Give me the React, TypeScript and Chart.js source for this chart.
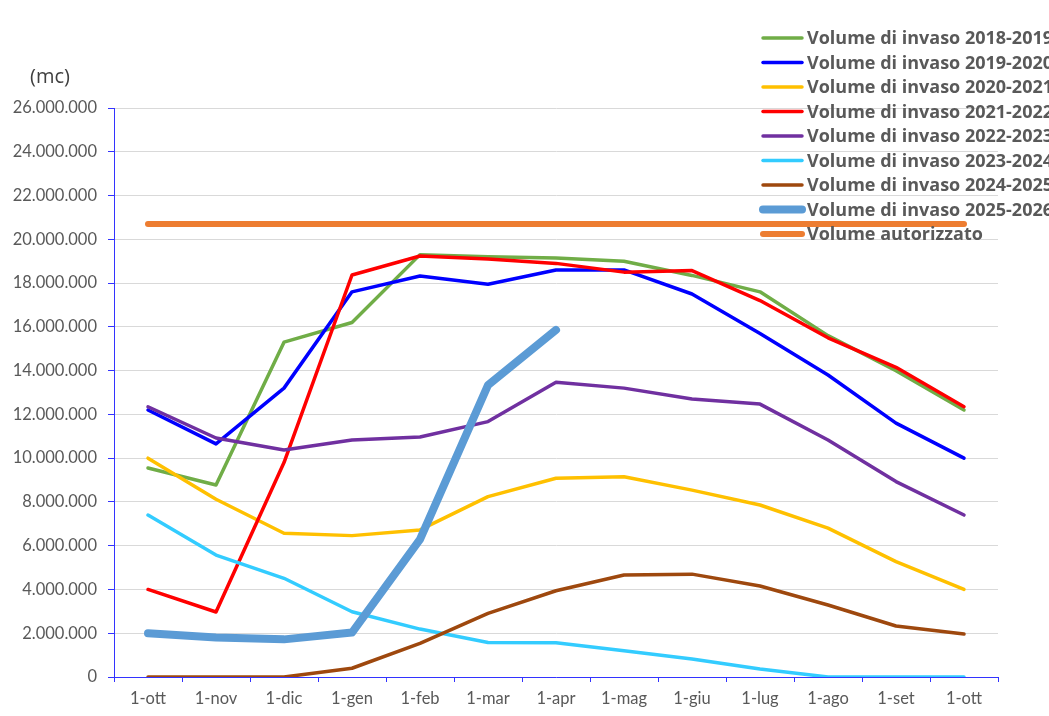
import React, { useEffect, useRef } from "react";
import { Chart, registerables } from "chart.js";

Chart.register(...registerables);

const months = ["1-ott", "1-nov", "1-dic", "1-gen", "1-feb", "1-mar", "1-apr", "1-mag", "1-giu", "1-lug", "1-ago", "1-set", "1-ott"];

const vol2018 = [9550000, 8770000, 15300000, 16200000, 19300000, 19200000, 19150000, 19000000, 18350000, 17600000, 15600000, 14000000, 12200000];
const vol2019 = [12200000, 10650000, 13200000, 17600000, 18320000, 17950000, 18600000, 18600000, 17500000, 15700000, 13800000, 11600000, 10000000];
const vol2020 = [10000000, 8120000, 6570000, 6460000, 6720000, 8240000, 9080000, 9150000, 8540000, 7860000, 6800000, 5270000, 4000000];
const vol2021 = [4000000, 2970000, 9800000, 18370000, 19240000, 19100000, 18900000, 18500000, 18570000, 17200000, 15500000, 14150000, 12350000];
const vol2022 = [12350000, 10920000, 10370000, 10830000, 10970000, 11670000, 13470000, 13200000, 12700000, 12470000, 10830000, 8930000, 7400000];
const vol2023 = [7400000, 5570000, 4510000, 2980000, 2190000, 1580000, 1560000, 1200000, 820000, 370000, 0, 0, 0];
const vol2024 = [0, 0, 0, 400000, 1540000, 2910000, 3940000, 4660000, 4700000, 4160000, 3290000, 2330000, 1960000];
const vol2025 = [2000000, 1800000, 1720000, 2030000, 6290000, 13340000, 15860000, null, null, null, null, null, null];
const autorizzato = [20700000, 20700000, 20700000, 20700000, 20700000, 20700000, 20700000, 20700000, 20700000, 20700000, 20700000, 20700000, 20700000];

const seriesLabels = [
  "Volume di invaso 2018-2019",
  "Volume di invaso 2019-2020",
  "Volume di invaso 2020-2021",
  "Volume di invaso 2021-2022",
  "Volume di invaso 2022-2023",
  "Volume di invaso 2023-2024",
  "Volume di invaso 2024-2025",
  "Volume di invaso 2025-2026",
  "Volume autorizzato",
];
const seriesData = [vol2018, vol2019, vol2020, vol2021, vol2022, vol2023, vol2024, vol2025, autorizzato];
const seriesColors = ["#70AD47", "#0000FF", "#FFC000", "#FF0000", "#7030A0", "#33CCFF", "#9E480E", "#5B9BD5", "#ED7D31"];
const seriesWidths = [3.5, 3.5, 3.5, 3.5, 3.5, 3.5, 3.5, 8, 6];

const FONT = "Lato, 'Open Sans', sans-serif";
const LEGEND_FONT = "'Open Sans', Lato, sans-serif";

function fmt(v: number): string {
  if (v === 0) return "0";
  return String(Math.round(v)).replace(/\B(?=(\d{3})+(?!\d))/g, ".");
}

const overlayPlugin = {
  id: "overlay",
  afterDraw(chart: any) {
    const ctx = chart.ctx;
    ctx.save();
    chart.data.datasets.forEach((ds: any, i: number) => {
      const y = 38 + i * 24.5;
      ctx.strokeStyle = ds.borderColor;
      ctx.lineWidth = ds.borderWidth;
      ctx.lineCap = "round";
      ctx.beginPath();
      ctx.moveTo(763, y);
      ctx.lineTo(802, y);
      ctx.stroke();
      ctx.fillStyle = "#595959";
      ctx.font = "bold 18px " + LEGEND_FONT;
      ctx.textBaseline = "middle";
      ctx.textAlign = "left";
      ctx.fillText(ds.label, 807, y + 1);
    });
    ctx.fillStyle = "#404040";
    ctx.font = "20px " + LEGEND_FONT;
    ctx.textBaseline = "middle";
    ctx.textAlign = "left";
    ctx.fillText("(mc)", 30, 77);
    ctx.restore();
  },
};

export default function App() {
  const ref = useRef<HTMLCanvasElement | null>(null);
  useEffect(() => {
    if (!ref.current) return;
    const n = seriesData.length;
    const chart = new Chart(ref.current, {
      type: "line",
      data: {
        labels: months,
        datasets: seriesData.map((d, i) => ({
          label: seriesLabels[i],
          data: d,
          borderColor: seriesColors[i],
          backgroundColor: seriesColors[i],
          borderWidth: seriesWidths[i],
          pointRadius: 0,
          tension: 0,
          fill: false,
          borderCapStyle: "round",
          borderJoinStyle: "round",
          order: n - i,
        })),
      },
      options: {
        responsive: false,
        animation: false,
        layout: { padding: { left: 0, top: 108, right: 51, bottom: 0 } },
        plugins: { legend: { display: false }, tooltip: { enabled: false } },
        scales: {
          x: {
            offset: true,
            grid: { display: true, drawOnChartArea: false, offset: true, tickLength: 5, tickColor: "#3333FF", tickWidth: 1 },
            border: { color: "#3333FF", width: 1 },
            ticks: { color: "#595959", font: { family: FONT, size: 16.5 }, padding: 7, maxRotation: 0, autoSkip: false },
            afterFit: (s: any) => { s.height = 39; },
          },
          y: {
            min: 0,
            max: 26000000,
            grid: { color: "#D9D9D9", lineWidth: 1, tickLength: 6, tickColor: "#3333FF", tickWidth: 1 },
            border: { color: "#3333FF", width: 1 },
            ticks: { stepSize: 2000000, color: "#595959", font: { family: FONT, size: 16.5 }, padding: 11, callback: (v: any) => fmt(Number(v)) },
            afterFit: (s: any) => { s.width = 114; },
          },
        },
      },
      plugins: [overlayPlugin],
    } as any);
    return () => chart.destroy();
  }, []);
  return (
    <div style={{ position: "fixed", left: 0, top: 0, width: 1049, height: 716, background: "#fff" }}>
      <canvas ref={ref} width={1049} height={716} style={{ display: "block" }} />
    </div>
  );
}
